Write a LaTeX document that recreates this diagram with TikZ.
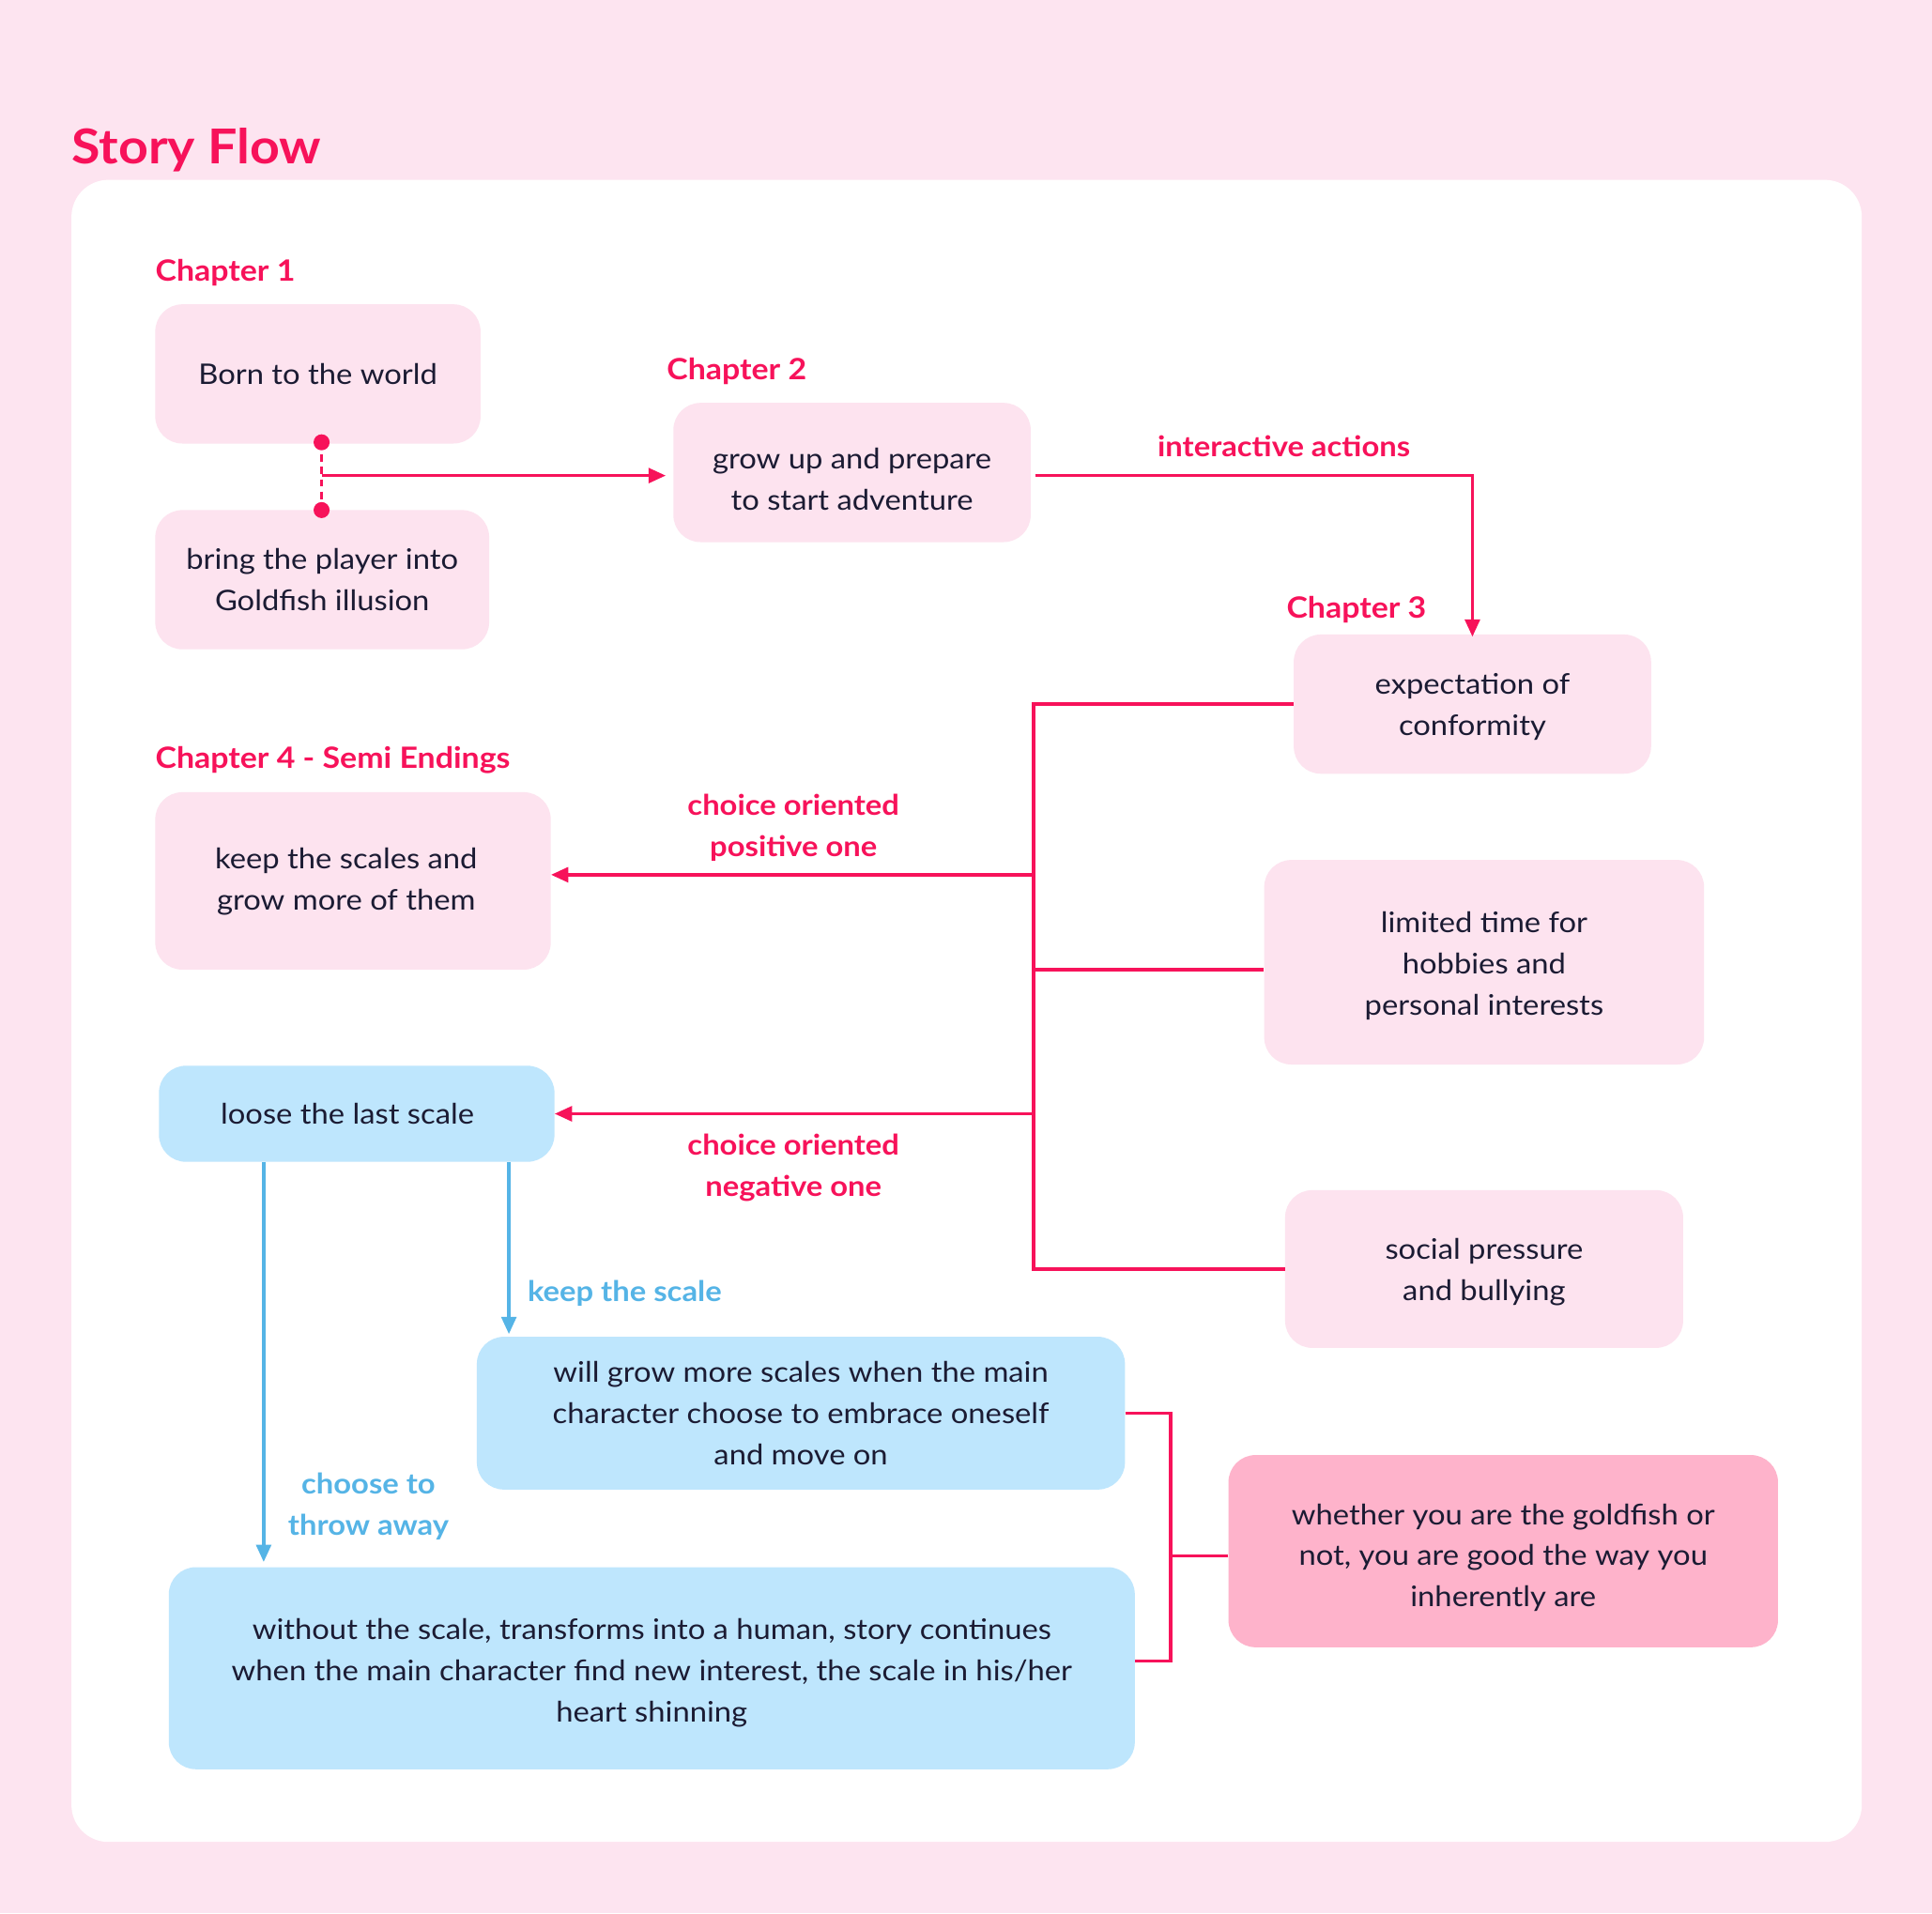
\documentclass[tikz,border=0pt]{standalone}
\usepackage{fontspec}
\setmainfont{Lato}[FakeStretch=1.085]
\usetikzlibrary{arrows.meta}
\definecolor{bgpink}{HTML}{FDE4F0}
\definecolor{boxpink}{HTML}{FDE3EF}
\definecolor{strongpink}{HTML}{FEB3CB}
\definecolor{boxblue}{HTML}{BEE6FD}
\definecolor{accent}{HTML}{F7125A}
\definecolor{linkblue}{HTML}{55B4E6}
\definecolor{ink}{HTML}{1B1B33}
% raise the first line box so the text block sits a little lower
\newcommand\tsh[1]{\rule{0pt}{#1}}
\tikzset{
  box/.style={rounded corners=22pt, inner sep=0pt, align=center, text=ink,
    font=\fontsize{23}{33.5}\selectfont},
  pbox/.style={box, fill=boxpink},
  bbox/.style={box, fill=boxblue},
  sbox/.style={box, fill=strongpink},
  chap/.style={anchor=west, inner sep=0pt, text=accent, font=\fontsize{23.8}{28}\selectfont\bfseries},
  plabel/.style={inner sep=0pt, align=center, text=accent, font=\fontsize{23}{33.5}\selectfont\bfseries},
  blabel/.style={inner sep=0pt, align=center, text=linkblue, font=\fontsize{23}{33.5}\selectfont\bfseries},
  pline/.style={draw=accent, line width=2.6pt},
  parrow/.style={pline, -{Triangle[length=14pt,width=12pt]}},
  bline/.style={draw=linkblue, line width=2.6pt},
  barrow/.style={bline, -{Triangle[length=14pt,width=12pt]}},
}
\begin{document}
\begin{tikzpicture}[x=1pt,y=-1pt]
\useasboundingbox (0,0) rectangle (1568,1553);
\fill[bgpink] (0,0) rectangle (1568,1553);
\fill[white, rounded corners=30pt] (58,146) rectangle (1511,1495);

\node[anchor=base west, inner sep=0pt, text=accent, font=\fontsize{39}{44}\selectfont\bfseries] (title) at (58,133) {Story Flow};

% chapter labels
\node[chap] (ch1) at (126,221) {Chapter 1};
\node[chap] (ch2) at (541,301) {Chapter 2};
\node[chap] (ch3) at (1044,495) {Chapter 3};
\node[chap] (ch4) at (126,617) {Chapter 4 - Semi Endings};

% boxes
\node[pbox, minimum width=264pt, minimum height=113pt] (born) at (258,303.5) {Born to the world};
\node[pbox, minimum width=271pt, minimum height=113pt] (bring) at (261.5,470.5) {bring the player into\\Goldfish illusion};
\node[pbox, minimum width=290pt, minimum height=113pt] (grow) at (691.5,383.5) {\tsh{27.6pt}grow up and prepare\\to start adventure};
\node[pbox, minimum width=290pt, minimum height=113pt] (expect) at (1195,571.5) {\tsh{20.6pt}expectation of\\conformity};
\node[pbox, minimum width=357pt, minimum height=166pt] (limited) at (1204.5,781) {\tsh{22.6pt}limited time for\\hobbies and\\personal interests};
\node[pbox, minimum width=323pt, minimum height=128pt] (social) at (1204.5,1030) {\tsh{22.6pt}social pressure\\and bullying};
\node[pbox, minimum width=321pt, minimum height=144pt] (keep) at (286.5,715) {\tsh{18.6pt}keep the scales and\kern11pt\\grow more of them\kern11pt};
\node[bbox, minimum width=321pt, minimum height=78pt] (loose) at (289.5,904) {loose the last scale\kern15pt};
\node[bbox, minimum width=526pt, minimum height=124pt] (will) at (650,1147) {will grow more scales when the main\\character choose to embrace oneself\\and move on};
\node[bbox, minimum width=784pt, minimum height=164pt] (without) at (529,1354) {\tsh{24.6pt}without the scale, transforms into a human, story continues\\when the main character find new interest, the scale in his/her\\heart shinning};
\node[sbox, minimum width=446pt, minimum height=156pt] (whether) at (1220,1259) {\tsh{27.6pt}whether you are the goldfish or\\not, you are good the way you\\inherently are};

% chapter 1 connector
\coordinate (d1) at (261,359);
\coordinate (d2) at (261,414);
\coordinate (dm) at (261,386);
\draw[accent, line width=2.6pt, dash pattern=on 6pt off 4pt] (d1) -- (d2);
\fill[accent] (d1) circle (6.5pt);
\fill[accent] (d2) circle (6.5pt);
\draw[parrow, shorten >=6pt] (dm) -- (grow.west |- dm);

% chapter 2 -> 3
\coordinate (g2) at (840,386);
\draw[parrow, shorten >=-2pt] (g2) -| (expect.north);
\node[plabel] (lint) at (1042,362) {interactive actions};

% trunk
\coordinate (tx) at (839,0);
\coordinate (tpos) at (839,710);
\coordinate (tlim) at (839,787);
\coordinate (tneg) at (839,904);
\draw[pline] (expect.west) -- (expect.west -| tx) -- (social.west -| tx) -- (social.west);
\draw[pline] (tlim) -- (limited.west |- tlim);
\draw[parrow] (tpos) -- (keep.east |- tpos);
\draw[parrow] (tneg) -- (loose.east |- tneg);
\node[plabel] (lpos) at (644,672) {choice oriented\\positive one};
\node[plabel] (lneg) at (644,948) {choice oriented\\negative one};

% blue arrows
\coordinate (bx1) at (214,0);
\coordinate (bx2) at (413,0);
\draw[barrow, shorten >=4pt] (loose.south -| bx1) -- (without.north -| bx1);
\draw[barrow, shorten >=2pt] (loose.south -| bx2) -- (will.north -| bx2);
\node[blabel, anchor=west] (lkeep) at (428,1050) {keep the scale};
\node[blabel] (lthrow) at (299,1223) {choose to\\throw away};

% final bracket
\coordinate (bk) at (950,0);
\coordinate (bwm) at (921,1348);
\draw[pline] (will.east) -- (will.east -| bk) -- (bwm -| bk) -- (bwm);
\draw[pline] (whether.west |- 0,1263) -- (bk |- 0,1263);
\end{tikzpicture}
\end{document}
